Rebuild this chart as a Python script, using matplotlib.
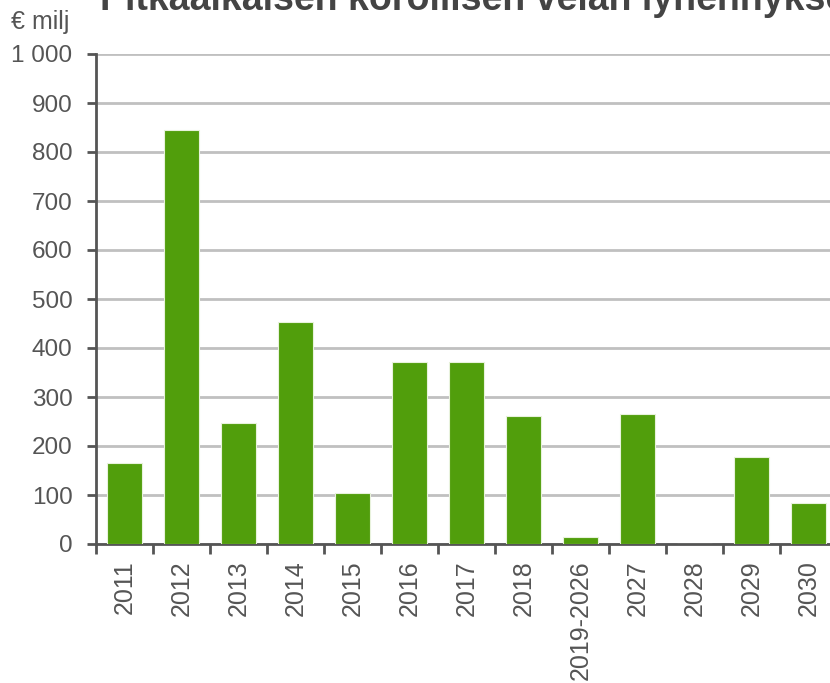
import matplotlib
matplotlib.use("Agg")
import matplotlib.pyplot as plt
import numpy as np

plt.rcParams['font.family'] = ['Liberation Sans', 'DejaVu Sans']

categories = ["2011", "2012", "2013", "2014", "2015", "2016", "2017", "2018",
              "2019-2026", "2027", "2028", "2029", "2030"]
values = [165, 845, 247, 453, 104, 371, 371, 261, 14, 265, 0, 178, 84]
yticks = [0, 100, 200, 300, 400, 500, 600, 700, 800, 900, 1000]
ytick_labels = ["0", "100", "200", "300", "400", "500", "600", "700", "800", "900", "1 000"]

fig = plt.figure(figsize=(8.3, 6.83), dpi=100)
ax = fig.add_axes([96/830, 139/683, 741/830, 490/683])

grey = "#555555"
x = np.arange(len(categories))
ax.bar(x, values, width=0.6, color="#519E0C", edgecolor="#e8f2dc", linewidth=0.8, zorder=3)

ax.set_xlim(-0.5, len(categories) - 0.5)
ax.set_ylim(0, 1000)
ax.set_yticks(yticks)
ax.set_yticklabels(ytick_labels)
ax.yaxis.grid(True, color="#c0c0c0", linewidth=2, zorder=0)
ax.set_axisbelow(True)

ax.set_xticks(x)
ax.set_xticklabels(categories, rotation=90)
ax.set_xticks(np.arange(len(categories) + 1) - 0.5, minor=True)
ax.tick_params(axis='x', which='major', length=0, pad=11.5, labelsize=18, labelcolor=grey)
ax.tick_params(axis='x', which='minor', length=7, width=2, color=grey)
ax.tick_params(axis='y', length=6.5, width=2, color=grey, labelsize=17.5, labelcolor=grey, pad=10.5)

for s in ["top", "right"]:
    ax.spines[s].set_visible(False)
for s in ["left", "bottom"]:
    ax.spines[s].set_color(grey)
    ax.spines[s].set_linewidth(2)

fig.text(11/830, 1 - 22/683, "€ milj", fontsize=18, color=grey, ha="left", va="center")
fig.text(100/830, 1 - 10/683, "Pitkäaikaisen korollisen velan lyhennykset",
         fontsize=27, fontweight="bold", color="#444444", ha="left", va="baseline")

fig.savefig("out.png", dpi=100)
